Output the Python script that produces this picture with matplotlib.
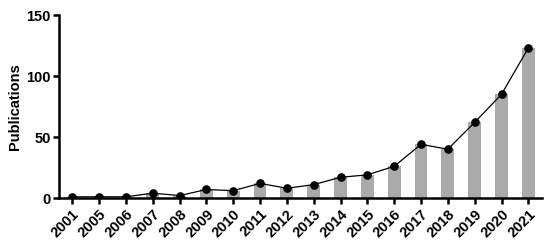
import matplotlib
matplotlib.use("Agg")
import matplotlib.pyplot as plt
import numpy as np

years = ["2001", "2005", "2006", "2007", "2008", "2009", "2010", "2011", "2012",
         "2013", "2014", "2015", "2016", "2017", "2018", "2019", "2020", "2021"]
publications = [1, 1, 1, 4, 2, 7, 6, 12, 8, 11, 17, 19, 26, 44, 40, 62, 85, 123]

plt.rcParams['font.family'] = ['Liberation Sans', 'DejaVu Sans']
plt.rcParams['font.weight'] = 'bold'

fig = plt.figure(figsize=(5.5, 2.46), dpi=100)
ax = fig.add_axes([0.107, 0.195, 0.878, 0.744])

x = np.arange(len(years))
ax.bar(x, publications, width=0.48, color='#aaaaaa', zorder=1)
ax.plot(x, publications, color='black', linewidth=0.9, marker='o', markersize=5.2, zorder=3)

ax.set_xlim(-0.5, len(years) - 0.5)
ax.set_ylim(0, 150)
ax.set_yticks([0, 50, 100, 150])
ax.set_xticks(x)
ax.set_xticklabels(years, rotation=45, ha='right', rotation_mode='anchor', fontsize=10.5, fontweight='bold')
for lab in ax.get_yticklabels():
    lab.set_fontsize(10.5)
    lab.set_fontweight('bold')
ax.set_ylabel('Publications', fontsize=10.5, fontweight='bold', labelpad=3)

for s in ['top', 'right']:
    ax.spines[s].set_visible(False)
for s in ['left', 'bottom']:
    ax.spines[s].set_linewidth(1.8)
ax.tick_params(axis='both', width=1.8, length=4.5, pad=1.5)
ax.tick_params(axis='x', pad=2)

fig.savefig('out.png', dpi=100)
